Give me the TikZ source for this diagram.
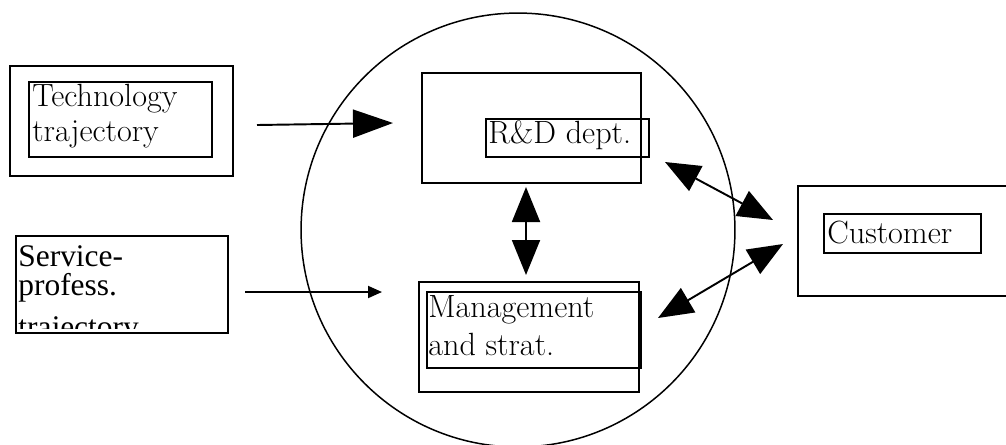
\documentclass[tikz,border=0pt]{standalone}
\usepackage{fontspec}
\usepackage{tikz}
\usetikzlibrary{arrows.meta}
\newfontfamily\timesfont{Liberation Serif}
\newcommand{\servfont}{\timesfont\fontsize{17.9}{16.2}\selectfont}
\tikzstyle{outbox}=[draw, line width=1.1pt, inner sep=0pt]
\tikzstyle{inbox}=[draw, line width=1pt, inner sep=0pt]
\tikzstyle{boxtext}=[inner sep=0pt, anchor=base west, align=left, font=\fontsize{18.3}{19.4}\selectfont]
\tikzstyle{link}=[line width=1.1pt]
\tikzstyle{bighead}=[link, -{Triangle[length=0.8cm, width=0.56cm]}]
\tikzstyle{smallhead}=[link, -{Triangle[length=0.28cm, width=0.24cm]}]
\tikzstyle{twohead}=[link, {Triangle[length=0.7cm, width=0.56cm]}-{Triangle[length=0.7cm, width=0.56cm]}]

\begin{document}
\begin{tikzpicture}[x=0.02cm, y=-0.02cm]
        \useasboundingbox (0, 0) rectangle (1006, 444);
        % firm
        \node[draw, circle, line width=0.85pt, inner sep=0pt, minimum size=8.68cm] (firm) at (518, 230) {};
        % boxes
        \node[outbox, minimum width=4.46cm, minimum height=2.2cm] (tech) at (121.5, 121) {};
        \node[inbox, minimum width=3.66cm, minimum height=1.5cm] (techin) at (120.5, 119.5) {};
        \node[outbox, minimum width=4.24cm, minimum height=1.94cm] (serv) at (122, 284.5) {};
        \node[outbox, minimum width=4.38cm, minimum height=2.2cm] (rd) at (531.5, 128) {};
        \node[inbox, minimum width=3.26cm, minimum height=0.76cm] (rdin) at (567.5, 138) {};
        \node[outbox, minimum width=4.4cm, minimum height=2.2cm] (mgmt) at (529, 337) {};
        \node[inbox, minimum width=4.28cm, minimum height=1.52cm] (mgmtin) at (534, 330) {};
        \node[outbox, minimum width=4.4cm, minimum height=2.2cm] (cust) at (908, 241) {};
        \node[inbox, minimum width=3.14cm, minimum height=0.78cm] (custin) at (902.5, 233.5) {};
        % texts (base is the last line)
        \node[boxtext] (techtext) at (32, 141) {Technology\\trajectory};
        \node[boxtext] (rdtext) at (488, 143) {R\&D dept.};
        \node[boxtext, font=\fontsize{18.3}{21.6}\selectfont] (mgmttext) at (428, 355) {Management\\and strat.};
        \node[boxtext] (custtext) at (827, 243) {Customer};
        \begin{scope}
            \clip (16, 236) rectangle (228, 328);
            \node[boxtext, font=\servfont] (servtext) at (18, 337) {Service-\\profess.\\[7.7pt]trajectory};
        \end{scope}
        % connector ends
        \coordinate (t1) at (257, 125);
        \coordinate (t2) at (393, 123);
        \coordinate (s1) at (245, 292);
        \coordinate (s2) at (382, 292);
        \coordinate (v1) at (526, 187);
        \coordinate (v2) at (526, 275);
        \coordinate (r1) at (665, 162);
        \coordinate (r2) at (773, 220);
        \coordinate (m1) at (658, 318);
        \coordinate (m2) at (783, 244);
        \draw[bighead] (t1) -- (t2);
        \draw[smallhead] (s1) -- (s2);
        \draw[twohead] (v1) -- (v2);
        \draw[twohead] (r1) -- (r2);
        \draw[twohead] (m1) -- (m2);
    \end{tikzpicture}
\end{document}
